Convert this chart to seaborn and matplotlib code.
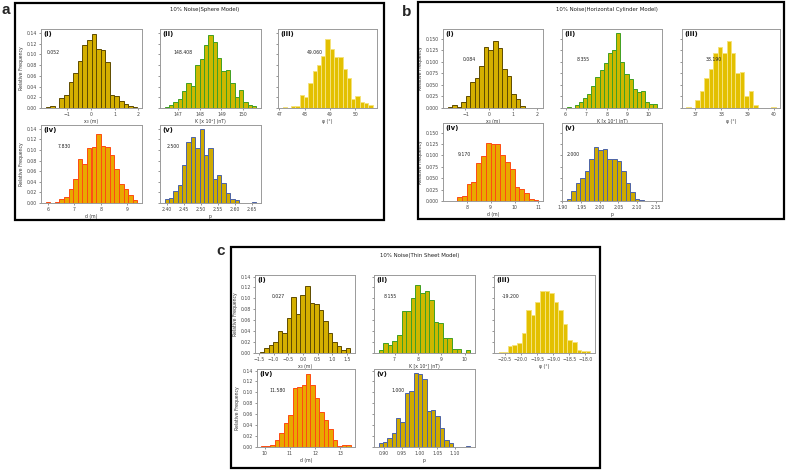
import numpy as np
import pandas as pd
import matplotlib
matplotlib.use("Agg")
import matplotlib.pyplot as plt
import seaborn as sns
from matplotlib.patches import Rectangle

sns.set_theme(style="white")
plt.rcParams['font.family'] = ['DejaVu Sans']

W, H, DPI = 787, 471, 100

# ---------------- data (relative frequencies) ----------------
# Panel a : 10% Noise (Sphere Model)
a_i_start, a_i_width = -1.90, 0.193
a_i_freq = [0.002, 0.0045, 0.000, 0.019, 0.024, 0.048, 0.066, 0.087, 0.118, 0.126, 0.138,
            0.110, 0.107, 0.086, 0.024, 0.022, 0.013, 0.008, 0.004, 0.002]
a_ii_start, a_ii_width = 146.4, 0.2
a_ii_freq = [0.002, 0.005, 0.012, 0.016, 0.032, 0.046, 0.041, 0.080, 0.091, 0.118, 0.135, 0.122,
             0.093, 0.069, 0.071, 0.046, 0.021, 0.033, 0.011, 0.005, 0.004]
a_iii_start, a_iii_width = 47.13, 0.169
a_iii_freq = [0.002, 0.000, 0.004, 0.004, 0.025, 0.021, 0.047, 0.069, 0.080, 0.096, 0.128, 0.109,
              0.094, 0.094, 0.072, 0.056, 0.016, 0.023, 0.012, 0.010, 0.006]
a_iv_start, a_iv_width = 5.9, 0.175
a_iv_freq = [0.002, 0.000, 0.002, 0.008, 0.012, 0.026, 0.046, 0.082, 0.074, 0.104, 0.105, 0.130,
             0.108, 0.106, 0.090, 0.064, 0.036, 0.026, 0.016, 0.005]
a_v_start, a_v_width = 2.394, 0.0128
a_v_freq = [0.007, 0.009, 0.023, 0.034, 0.072, 0.115, 0.125, 0.104, 0.140, 0.091, 0.104, 0.045,
            0.053, 0.037, 0.018, 0.007, 0.006, 0.000, 0.000, 0.000, 0.002]

# Panel b : 10% Noise (Horizontal Cylinder Model)
b_i_start, b_i_width = -1.75, 0.19
b_i_freq = [0.003, 0.006, 0.002, 0.012, 0.026, 0.057, 0.065, 0.091, 0.132, 0.125, 0.146, 0.131,
            0.084, 0.069, 0.030, 0.020, 0.004, 0.000, 0.001, 0.001]
b_ii_start, b_ii_width = 6.05, 0.2
b_ii_freq = [0.002, 0.001, 0.006, 0.013, 0.022, 0.030, 0.048, 0.068, 0.082, 0.098, 0.120, 0.125,
             0.163, 0.100, 0.073, 0.063, 0.042, 0.035, 0.037, 0.012, 0.009, 0.008]
b_iii_start, b_iii_width = 36.67, 0.17
b_iii_freq = [0.003, 0.000, 0.018, 0.036, 0.066, 0.085, 0.120, 0.132, 0.120, 0.146, 0.120, 0.075,
              0.077, 0.025, 0.036, 0.007, 0.000, 0.000, 0.000, 0.002]
b_iv_start, b_iv_width = 7.2, 0.2
b_iv_freq = [0.001, 0.001, 0.008, 0.010, 0.037, 0.041, 0.084, 0.099, 0.128, 0.126, 0.126, 0.100,
             0.085, 0.071, 0.030, 0.027, 0.018, 0.004, 0.002]
b_v_start, b_v_width = 1.911, 0.0122
b_v_freq = [0.005, 0.021, 0.040, 0.051, 0.066, 0.093, 0.119, 0.112, 0.115, 0.092, 0.092, 0.088,
            0.066, 0.040, 0.020, 0.005, 0.003, 0.000, 0.000, 0.001]

# Panel c : 10% Noise (Thin Sheet Model)
c_i_start, c_i_width = -1.48, 0.155
c_i_freq = [0.002, 0.010, 0.014, 0.020, 0.040, 0.037, 0.064, 0.103, 0.072, 0.106, 0.122, 0.092,
            0.090, 0.079, 0.058, 0.037, 0.020, 0.013, 0.005, 0.010]
c_ii_start, c_ii_width = 6.31, 0.197
c_ii_freq = [0.005, 0.018, 0.015, 0.022, 0.033, 0.076, 0.076, 0.101, 0.125, 0.110, 0.113, 0.097,
             0.057, 0.055, 0.028, 0.028, 0.008, 0.007, 0.000, 0.005]
c_iii_start, c_iii_width = -20.70, 0.143
c_iii_freq = [0.002, 0.001, 0.012, 0.014, 0.018, 0.036, 0.078, 0.070, 0.093, 0.114, 0.114, 0.109,
              0.094, 0.078, 0.054, 0.024, 0.020, 0.006, 0.004, 0.004]
c_iv_start, c_iv_width = 9.87, 0.177
c_iv_freq = [0.002, 0.002, 0.004, 0.012, 0.026, 0.044, 0.058, 0.108, 0.110, 0.114, 0.134, 0.113,
             0.090, 0.064, 0.050, 0.033, 0.013, 0.002, 0.004, 0.004]
c_v_start, c_v_width = 0.885, 0.0123
c_v_freq = [0.007, 0.010, 0.017, 0.026, 0.053, 0.046, 0.099, 0.102, 0.136, 0.133, 0.124, 0.065,
            0.067, 0.056, 0.035, 0.013, 0.007, 0.000, 0.000, 0.000, 0.001]

# estimates printed in each subplot
a_values = ["0.052", "148.408", "49.060", "7.830", "2.500"]
b_values = ["0.084", "8.355", "38.190", "9.170", "2.000"]
c_values = ["0.027", "8.155", "-19.200", "11.580", "1.000"]

sub_labels = ["(i)", "(ii)", "(iii)", "(iv)", "(v)"]
x_labels = ["x\u2080 (m)", "K [x 10\u00b3] (nT)", "\u03c6 (\u00b0)", "d (m)", "p"]

a_xticks = [[-1, 0, 1, 2], [147, 148, 149, 150], [47, 48, 49, 50], [6, 7, 8, 9],
            [2.40, 2.45, 2.50, 2.55, 2.60, 2.65]]
b_xticks = [[-1, 0, 1, 2], [6, 7, 8, 9, 10], [37, 38, 39, 40], [8, 9, 10, 11],
            [1.90, 1.95, 2.00, 2.05, 2.10, 2.15]]
c_xticks = [[-1.5, -1.0, -0.5, 0.0, 0.5, 1.0, 1.5], [7, 8, 9, 10],
            [-20.5, -20.0, -19.5, -19.0, -18.5, -18.0], [10, 11, 12, 13],
            [0.90, 0.95, 1.00, 1.05, 1.10]]
ac_yticks = [0.00, 0.02, 0.04, 0.06, 0.08, 0.10, 0.12, 0.14]
b_yticks = [0.000, 0.025, 0.050, 0.075, 0.100, 0.125, 0.150]

panel_titles = ["10% Noise(Sphere Model)", "10% Noise(Horizontal Cylinder Model)",
                "10% Noise(Thin Sheet Model)"]
panel_letters = ["a", "b", "c"]

# ---------------- styles ----------------
FACES = ["#D4AF00", "#CDB800", "#E3C000", "#E9A800", "#CFAA00"]
EDGES = ["#5E4B00", "#3FA023", "#F5E27A", "#FF4A12", "#4C63A8"]

# ---------------- layout (pixels) ----------------
layouts = [
    dict(box=(15, 3, 384, 220), title=(205, 10), letter=(2, 14),
         axes=[(41, 29, 142, 108), (160, 29, 261, 108), (278, 29, 377, 108),
               (41, 125, 142, 203), (160, 125, 261, 203)],
         textpos=[(0.06, 0.70), (0.13, 0.70), (0.29, 0.70), (0.17, 0.72), (0.07, 0.72)]),
    dict(box=(418, 2, 784, 219), title=(607, 10), letter=(402, 16),
         axes=[(443, 29, 543, 108), (562, 29, 662, 108), (682, 29, 780, 108),
               (443, 123, 543, 201), (562, 123, 662, 201)],
         textpos=[(0.20, 0.61), (0.15, 0.61), (0.24, 0.61), (0.15, 0.60), (0.05, 0.60)]),
    dict(box=(231, 247, 600, 468), title=(420, 256), letter=(216, 255),
         axes=[(255, 275, 355, 353), (374, 275, 475, 353), (494, 275, 595, 353),
               (257, 369, 355, 447), (374, 369, 475, 447)],
         textpos=[(0.17, 0.72), (0.10, 0.72), (0.08, 0.72), (0.13, 0.72), (0.17, 0.72)]),
]

panel_data = [
    [(a_i_start, a_i_width, a_i_freq), (a_ii_start, a_ii_width, a_ii_freq),
     (a_iii_start, a_iii_width, a_iii_freq), (a_iv_start, a_iv_width, a_iv_freq),
     (a_v_start, a_v_width, a_v_freq)],
    [(b_i_start, b_i_width, b_i_freq), (b_ii_start, b_ii_width, b_ii_freq),
     (b_iii_start, b_iii_width, b_iii_freq), (b_iv_start, b_iv_width, b_iv_freq),
     (b_v_start, b_v_width, b_v_freq)],
    [(c_i_start, c_i_width, c_i_freq), (c_ii_start, c_ii_width, c_ii_freq),
     (c_iii_start, c_iii_width, c_iii_freq), (c_iv_start, c_iv_width, c_iv_freq),
     (c_v_start, c_v_width, c_v_freq)],
]
panel_values = [a_values, b_values, c_values]
panel_xticks = [a_xticks, b_xticks, c_xticks]
panel_yticks = [ac_yticks, b_yticks, ac_yticks]

fig = plt.figure(figsize=(W / DPI, H / DPI), dpi=DPI)
fig.patch.set_facecolor("white")


def fx(x):
    return x / W


def fy(y):
    return 1 - y / H


for p in range(3):
    lay = layouts[p]
    l, t, r, b = lay["box"]
    fig.patches.append(Rectangle((fx(l), fy(b)), fx(r) - fx(l), fy(t) - fy(b),
                                 transform=fig.transFigure, fill=False,
                                 edgecolor="black", linewidth=1.6, zorder=0))
    fig.text(fx(lay["title"][0]), fy(lay["title"][1]), panel_titles[p],
             ha="center", va="center", fontsize=3.9, color="#222222")
    fig.text(fx(lay["letter"][0]), fy(lay["letter"][1]), panel_letters[p],
             ha="left", va="baseline", fontsize=11, fontweight="bold",
             family=["Liberation Sans", "DejaVu Sans"])
    ymax = max(max(d[2]) for d in panel_data[p]) * 1.05
    for k in range(5):
        al, at, ar, ab = lay["axes"][k]
        ax = fig.add_axes([fx(al), fy(ab), fx(ar) - fx(al), fy(at) - fy(ab)])
        start, width, freq = panel_data[p][k]
        n = len(freq)
        edges = [float(start + width * j) for j in range(n + 1)]
        centers = [(edges[j] + edges[j + 1]) / 2 for j in range(n)]
        df = pd.DataFrame({"value": centers, "freq": [float(f) for f in freq]})
        sns.histplot(data=df, x="value", weights="freq", bins=edges, ax=ax, stat="count",
                     color=FACES[k], edgecolor=EDGES[k], linewidth=0.7, alpha=1.0)
        ax.set_ylim(0, ymax)
        ax.set_xticks(panel_xticks[p][k])
        ax.set_yticks(panel_yticks[p])
        ax.set_xlabel(x_labels[k], fontsize=3.3, labelpad=1.5, color="#333333")
        if k in (0, 3):
            ax.set_ylabel("Relative Frequency", fontsize=3.3, labelpad=2, color="#333333")
        else:
            ax.set_ylabel("")
            ax.tick_params(axis="y", labelleft=False)
        ax.tick_params(axis="both", which="both", labelsize=3.3, length=1.6, width=0.4,
                       pad=1.2, colors="#444444", direction="out", bottom=True, left=True)
        for s in ax.spines.values():
            s.set_color("#9a9a9a")
            s.set_linewidth(0.7)
        ax.text(0.02, 0.97, sub_labels[k], transform=ax.transAxes, ha="left", va="top",
                fontsize=5, fontweight="bold", color="#111111")
        tx, ty = lay["textpos"][k]
        ax.text(tx, ty, panel_values[p][k], transform=ax.transAxes, ha="left",
                va="center", fontsize=3.3, color="#222222")

fig.savefig("out.png", dpi=DPI, facecolor="white")
